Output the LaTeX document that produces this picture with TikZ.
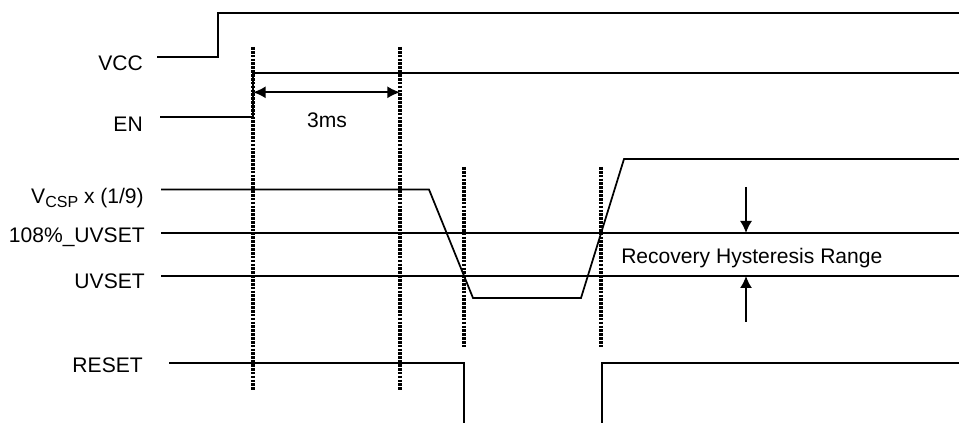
\documentclass[tikz,border=0pt]{standalone}
\usepackage{fontspec}
\setmainfont{Liberation Sans}
\usetikzlibrary{arrows.meta}
\tikzset{
  sig/.style={
    line width = 1.3pt,
    line join = miter
  },
  thinsig/.style={
    line width = 1pt
  },
  marker/.style={
    line width = 2.6pt,
    dash pattern = on 2pt off 0.9pt
  },
  span/.style={
    line width = 1.2pt,
    {Latex[length=9.5pt,width=9pt]}-{Latex[length=9.5pt,width=9pt]}
  },
  hyst/.style={
    line width = 1.2pt,
    -{Latex[length=9pt,width=9pt]}
  },
  lbl/.style={
    anchor = base east,
    inner sep = 0pt,
    font = \fontsize{15.8}{18}\selectfont
  },
  note/.style={
    inner sep = 0pt,
    font = \fontsize{15.8}{18}\selectfont
  }
}
\begin{document}
\begin{tikzpicture}[x=0.75pt,y=-0.75pt]
        \useasboundingbox (0,0) rectangle (959,423);
        % signal names
        \node[lbl] (vcc) at (143,70.7) {VCC};
        \node[lbl] (en) at (143,132) {EN};
        \node[lbl] (vcsp) at (144,204) {V\raisebox{-2.8pt}{\fontsize{12}{14}\selectfont CSP} x (1/9)};
        \node[lbl] (uvh) at (145,242.7) {108\%\_UVSET};
        \node[lbl] (uvset) at (145,289) {UVSET};
        \node[lbl] (reset) at (143,373) {RESET};
        % waveforms
        \draw[sig] (157,57)--(218,57)--(218,13)--(959,13);
        \draw[sig] (160,117)--(253,117)--(253,73)--(959,73);
        \draw[sig] (161,189.5)--(429,189.5)--(473,298)--(581,298)--(624,159)--(959,159);
        \draw[sig] (161,233)--(959,233);
        \draw[thinsig] (161,276)--(959,276);
        \draw[sig] (169,363)--(464,363)--(464,423);
        \draw[sig] (602,423)--(602,363)--(959,363);
        % time marks
        \draw[marker] (253,47)--(253,391);
        \draw[marker] (400,47)--(400,391);
        \draw[marker] (464,167)--(464,347);
        \draw[marker] (601,167)--(601,347);
        % 3ms delay
        \coordinate (d1) at (253,92.3);
        \coordinate (d2) at (400,92.3);
        \draw[span] (d1)--(d2);
        \node[note, anchor=base] (delay) at (327,128) {3ms};
        % hysteresis window
        \coordinate (h1) at (746,187);
        \coordinate (h2) at (746,233);
        \coordinate (h3) at (746,322);
        \coordinate (h4) at (746,276);
        \draw[hyst] (h1)--(h2);
        \draw[hyst] (h3)--(h4);
        \node[note, anchor=base west] (range) at (621,264) {Recovery Hysteresis Range};
    \end{tikzpicture}
\end{document}
